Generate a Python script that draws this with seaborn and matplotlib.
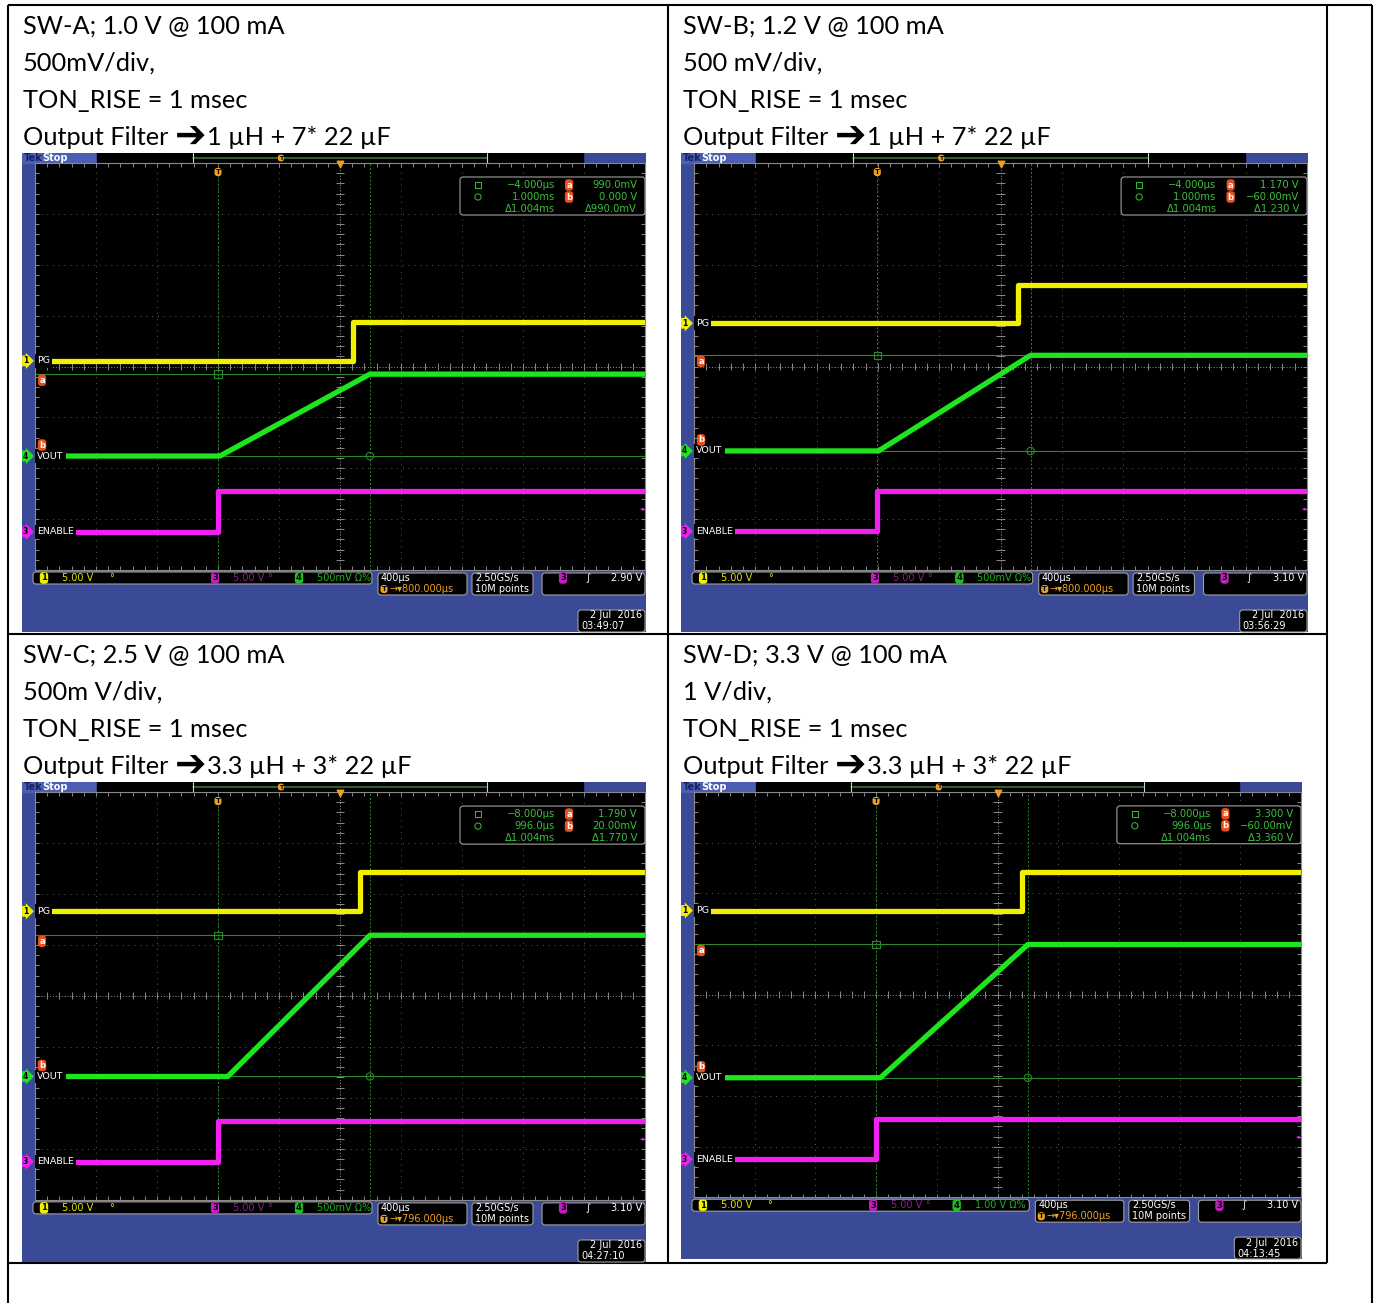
import numpy as np
import pandas as pd
import matplotlib
matplotlib.use("Agg")
import matplotlib.pyplot as plt
import matplotlib.patches as mpatches
import seaborn as sns

sns.set_theme(style="white")
plt.rcParams['font.family'] = ['Lato', 'DejaVu Sans']

W, H = 1378, 1303

# ---- cell captions ----
titles = ["SW-A; 1.0 V @ 100 mA", "SW-B; 1.2 V @ 100 mA", "SW-C; 2.5 V @ 100 mA", "SW-D; 3.3 V @ 100 mA"]
scales = ["500mV/div,", "500 mV/div,", "500m V/div,", "1 V/div,"]
rise = ["TON_RISE = 1 msec"] * 4
filter_lc = ["1 \u00b5H + 7* 22 \u00b5F", "1 \u00b5H + 7* 22 \u00b5F",
             "3.3 \u00b5H + 3* 22 \u00b5F", "3.3 \u00b5H + 3* 22 \u00b5F"]

# ---- traces, in screen divisions (x: 0-10 at 400 us/div, y: 0-8) ----
pg_edge = [5.21, 5.28, 5.33, 5.41]
pg_low = [4.11, 4.85, 5.66, 5.66]
pg_high = [4.88, 5.61, 6.43, 6.42]
vout_start = [3.03, 3.01, 3.16, 3.07]
vout_end = [5.49, 5.49, 5.49, 5.50]
vout_low = [2.24, 2.34, 2.42, 2.36]
vout_high = [3.85, 4.22, 5.19, 4.99]
en_edge = [3.00, 2.99, 3.00, 3.00]
en_low = [0.75, 0.76, 0.75, 0.75]
en_high = [1.56, 1.56, 1.54, 1.54]

# ---- scope readouts ----
cur_t1 = ["\u22124.000\u00b5s", "\u22124.000\u00b5s", "\u22128.000\u00b5s", "\u22128.000\u00b5s"]
cur_t2 = ["1.000ms", "1.000ms", "996.0\u00b5s", "996.0\u00b5s"]
cur_dt = ["\u03941.004ms"] * 4
cur_va = ["990.0mV", "1.170 V", "1.790 V", "3.300 V"]
cur_vb = ["0.000 V", "\u221260.00mV", "20.00mV", "\u221260.00mV"]
cur_dv = ["\u0394990.0mV", "\u03941.230 V", "\u03941.770 V", "\u03943.360 V"]
ch4_scale = ["500mV", "500mV", "500mV", "1.00 V"]
trig_pos = ["800.000\u00b5s", "800.000\u00b5s", "796.000\u00b5s", "796.000\u00b5s"]
trig_level = ["2.90 V", "3.10 V", "3.10 V", "3.10 V"]
stamp_time = ["03:49:07", "03:56:29", "04:27:10", "04:13:45"]

BLUE = '#3b4a96'
YEL = '#f0f000'
GRN = '#1ee61e'
MAG = '#f020f0'
CUR = '#2a8a2a'
GRAY = '#5c5c5c'
MONO = 'DejaVu Sans'

fig = plt.figure(figsize=(W / 100, H / 100), dpi=100)
renderer = fig.canvas.get_renderer()


def px_axes(x, y, w, h):
    return fig.add_axes([x / W, 1 - (y + h) / H, w / W, h / H])


bg = px_axes(0, 0, W, H)
bg.set_xlim(0, W)
bg.set_ylim(H, 0)
bg.axis('off')

# table lines
lk = dict(color='black', lw=1.5, solid_capstyle='butt')
bg.plot([8, 1372], [5, 5], **lk)
bg.plot([8, 8], [5, 1303], **lk)
bg.plot([668, 668], [5, 1263], **lk)
bg.plot([1327, 1327], [5, 1263], **lk)
bg.plot([1372, 1372], [5, 1303], **lk)
bg.plot([8, 1327], [634, 634], **lk)
bg.plot([8, 1327], [1263, 1263], **lk)

cells = [(23, 34), (683, 34), (23, 663), (683, 663)]
CAP = 18.3
for i, (tx, ty) in enumerate(cells):
    for k, s in enumerate([titles[i], scales[i], rise[i]]):
        bg.text(tx, ty + 37 * k, s, fontsize=CAP, color='black', va='baseline', ha='left')
    yl = ty + 37 * 3
    t1 = bg.text(tx, yl, 'Output Filter', fontsize=CAP, color='black', va='baseline', ha='left')
    xa = t1.get_window_extent(renderer=renderer).x1 + 6
    t2 = bg.text(xa, yl + 3, '\u2794', fontsize=27, color='black', va='baseline', ha='left',
                 family='DejaVu Sans', fontweight='bold')
    xb = t2.get_window_extent(renderer=renderer).x1 + 1
    bg.text(xb, yl, filter_lc[i], fontsize=CAP, color='black', va='baseline', ha='left')


def chip(ax, x, y, s, fc, tc='black', fs=6):
    ax.text(x, y, s, fontsize=fs, color=tc, ha='center', va='center', family=MONO, fontweight='bold',
            bbox=dict(boxstyle='round,pad=0.15,rounding_size=0.4', fc=fc, ec='none'))


def box(ax, x1, y1, x2, y2):
    ax.add_patch(mpatches.FancyBboxPatch((x1, y1), x2 - x1, y2 - y1, boxstyle='round,pad=0,rounding_size=3',
                                         fc='black', ec='#a0a0a0', lw=0.8, clip_on=False))


def draw_scope(i, x0, y0, w, h):
    sx, sy = w / 624, h / 479
    gw, gh = w - 14, 407 * sy

    sc = px_axes(x0, y0, w, h)
    sc.set_xlim(0, w)
    sc.set_ylim(h, 0)
    sc.axis('off')
    sc.add_patch(mpatches.Rectangle((0, 0), w, h, color=BLUE))
    sc.add_patch(mpatches.Rectangle((0, 0), 75 * sx, 10 * sy, color='#4c5eb4'))
    sc.add_patch(mpatches.Rectangle((75 * sx, 0), 486 * sx, 10 * sy, color='black'))
    sc.plot([171 * sx, 465 * sx], [5 * sy, 5 * sy], color='#3d6e3d', lw=1.2)
    for xx in (171 * sx, 465 * sx):
        sc.plot([xx, xx], [0, 10 * sy], color='#d0d0d0', lw=0.8)
    sc.text(2, 5 * sy, 'Tek', color='#16205a', fontsize=7, fontweight='bold', va='center', family=MONO)
    sc.text(20, 5 * sy, 'Stop', color='white', fontsize=7, fontweight='bold', va='center', family=MONO)
    chip(sc, 259 * sx, 5 * sy, 'T', '#f0a020', fs=4.5)

    # graticule
    g = px_axes(x0 + 13, y0 + 10, gw, gh)
    g.set_facecolor('black')
    g.set_xlim(0, 10)
    g.set_ylim(0, 8)
    for k in range(1, 10):
        g.axvline(k, color=GRAY, lw=0.7, ls=(0, (1, 5)))
    for k in range(1, 8):
        g.axhline(k, color=GRAY, lw=0.7, ls=(0, (1, 5)))
    g.axvline(5, color='#8a8a8a', lw=0.7, ls=(0, (1, 2)))
    g.axhline(4, color='#8a8a8a', lw=0.7, ls=(0, (1, 2)))
    tx = np.arange(0, 10.01, 0.2)
    ty = np.arange(0, 8.01, 0.2)
    g.vlines(tx, 3.93, 4.07, color='#8a8a8a', lw=0.7)
    g.hlines(ty, 4.93, 5.07, color='#8a8a8a', lw=0.7)
    g.vlines(tx, 0, 0.07, color='#8a8a8a', lw=0.7)
    g.vlines(tx, 7.93, 8, color='#8a8a8a', lw=0.7)
    g.hlines(ty, 0, 0.07, color='#8a8a8a', lw=0.7)
    g.hlines(ty, 9.93, 10, color='#8a8a8a', lw=0.7)
    for sp in g.spines.values():
        sp.set_color('#8a8a8a')
        sp.set_linewidth(0.8)

    # cursors
    g.axvline(en_edge[i], color=CUR, lw=0.7, ls=(0, (2, 2)))
    g.axvline(vout_end[i], color=CUR, lw=0.7, ls=(0, (2, 2)))
    g.axhline(vout_high[i], color=CUR, lw=0.8)
    g.axhline(vout_low[i], color=CUR, lw=0.8)

    pg = pd.DataFrame({'t': [0, pg_edge[i], pg_edge[i], 10],
                       'v': [pg_low[i], pg_low[i], pg_high[i], pg_high[i]]})
    vo = pd.DataFrame({'t': [0, vout_start[i], vout_end[i], 10],
                       'v': [vout_low[i], vout_low[i], vout_high[i], vout_high[i]]})
    en = pd.DataFrame({'t': [0, en_edge[i], en_edge[i], 10],
                       'v': [en_low[i], en_low[i], en_high[i], en_high[i]]})
    sns.lineplot(data=en, x='t', y='v', ax=g, color=MAG, lw=3.8, estimator=None, sort=False)
    sns.lineplot(data=pg, x='t', y='v', ax=g, color=YEL, lw=3.8, estimator=None, sort=False)
    sns.lineplot(data=vo, x='t', y='v', ax=g, color=GRN, lw=3.8, estimator=None, sort=False)
    g.scatter([en_edge[i]], [vout_high[i]], marker='s', s=28, facecolor='none', edgecolor=CUR, lw=0.8, zorder=5)
    g.scatter([vout_end[i]], [vout_low[i]], marker='o', s=28, facecolor='none', edgecolor=CUR, lw=0.8, zorder=5)
    g.set_xticks([])
    g.set_yticks([])
    g.set_xlabel('')
    g.set_ylabel('')

    # overlay
    ov = px_axes(x0, y0, w, h)
    ov.set_xlim(0, w)
    ov.set_ylim(h, 0)
    ov.axis('off')
    ov.patch.set_alpha(0)

    def ly(v):
        return 10 + (8 - v) / 8 * gh

    def lx(d):
        return 13 + d / 10 * gw

    for lvl, ch, lab, col in [(pg_low[i], '1', 'PG', YEL), (vout_low[i], '4', 'VOUT', GRN),
                              (en_low[i], '3', 'ENABLE', MAG)]:
        ov.text(1, ly(lvl), ch, fontsize=5.5, color='black', va='center', ha='left', family=MONO,
                fontweight='bold', bbox=dict(boxstyle='rarrow,pad=0.12', fc=col, ec='none'))
        ov.text(15, ly(lvl), lab, fontsize=6.8, color='white', va='center', ha='left', family=MONO,
                bbox=dict(boxstyle='square,pad=0.25', fc='black', ec='none'))
    chip(ov, 20, ly(vout_high[i]) + 6, 'a', '#e8501e', tc='white', fs=6)
    chip(ov, 20, ly(vout_low[i]) - 11, 'b', '#e8501e', tc='white', fs=6)
    ov.text(w - 4, ly(en_high[i]) + 18 * sy, '\u25c2', color=MAG, fontsize=5, ha='center', va='center', family=MONO)

    chip(ov, lx(en_edge[i]), 19 * sy, 'T', '#f0a020', fs=5)
    ov.scatter([lx(5)], [11 * sy], marker='v', s=22, color='#f0a020', zorder=6)

    # readout box
    box(ov, 438 * sx, 24 * sy, w - 1, 62 * sy)
    fk = dict(fontsize=7.2, color='#39c039', va='center', family=MONO)
    ov.scatter([456 * sx], [32 * sy], marker='s', s=20, facecolor='none', edgecolor='#39c039', lw=0.7)
    ov.scatter([456 * sx], [44 * sy], marker='o', s=20, facecolor='none', edgecolor='#39c039', lw=0.7)
    ov.text(533 * sx, 32 * sy, cur_t1[i], ha='right', **fk)
    ov.text(533 * sx, 44 * sy, cur_t2[i], ha='right', **fk)
    ov.text(533 * sx, 56 * sy, cur_dt[i], ha='right', **fk)
    ov.text(615 * sx, 32 * sy, cur_va[i], ha='right', **fk)
    ov.text(615 * sx, 44 * sy, cur_vb[i], ha='right', **fk)
    ov.text(615 * sx, 56 * sy, cur_dv[i], ha='right', **fk)
    chip(ov, 547 * sx, 32 * sy, 'a', '#e8501e', tc='white', fs=6)
    chip(ov, 547 * sx, 44 * sy, 'b', '#e8501e', tc='white', fs=6)

    # status bar
    sk = dict(fontsize=7, va='center', family=MONO)
    yb = 425 * sy
    box(ov, 11 * sx, 419 * sy, 350 * sx, 431 * sy)
    chip(ov, 22 * sx, yb, '1', YEL)
    ov.text(40 * sx, yb, '5.00 V', color='#e6e600', **sk)
    ov.text(87 * sx, yb, '\u00b0', color='#e6e600', **sk)
    chip(ov, 193 * sx, yb, '3', '#c020c0')
    ov.text(211 * sx, yb, '5.00 V', color='#8a208a', **sk)
    ov.text(245 * sx, yb, '\u00b0', color='#8a208a', **sk)
    chip(ov, 277 * sx, yb, '4', '#20c020')
    ov.text(295 * sx, yb, ch4_scale[i] + ' \u03a9%', color='#20b020', **sk)

    box(ov, 356 * sx, 420 * sy, 445 * sx, 442 * sy)
    ov.text(359 * sx, 425 * sy, '400\u00b5s', color='white', **sk)
    chip(ov, 362 * sx, 436 * sy, 'T', '#f0a020', fs=5)
    ov.text(367 * sx, 436 * sy, '\u2192\u25be' + trig_pos[i], color='#f0a020', **sk)

    box(ov, 450 * sx, 420 * sy, 511 * sx, 442 * sy)
    ov.text(453 * sx, 425 * sy, '2.50GS/s', color='white', **sk)
    ov.text(453 * sx, 436 * sy, '10M points', color='white', **sk)

    box(ov, 520 * sx, 420 * sy, 623 * sx, 442 * sy)
    chip(ov, 541 * sx, 425 * sy, '3', '#c020c0')
    ov.text(563 * sx, 425 * sy, '\u222b', color='white', **sk)
    ov.text(620 * sx, 425 * sy, trig_level[i], color='white', ha='right', **sk)

    box(ov, 556 * sx, 457 * sy, 623 * sx, 479 * sy)
    ov.text(620 * sx, 462.5 * sy, '2 Jul  2016', color='white', ha='right', **sk)
    ov.text(559 * sx, 473.5 * sy, stamp_time[i], color='white', ha='left', **sk)


draw_scope(0, 22, 153, 624, 479)
draw_scope(1, 681, 153, 627, 479)
draw_scope(2, 22, 782, 624, 480)
draw_scope(3, 681, 782, 621, 477)

fig.savefig('out.png', dpi=100)
